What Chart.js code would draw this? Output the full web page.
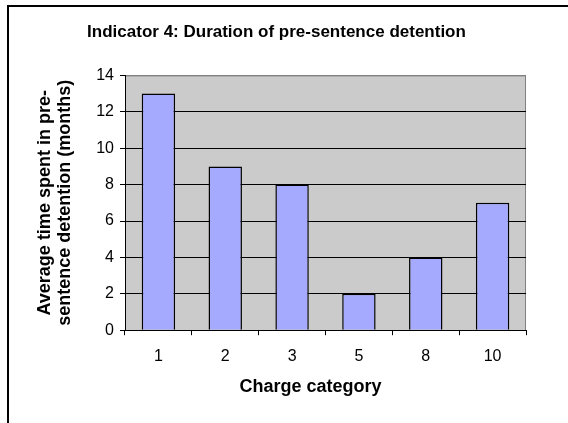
<!DOCTYPE html>
<html>
<head>
<meta charset="utf-8">
<script src="https://cdn.jsdelivr.net/npm/chart.js@4"></script>
<style>
  html, body { margin: 0; padding: 0; background: #fff; }
  #wrap { position: relative; width: 568px; height: 423px; overflow: hidden; }
  #frame { position: absolute; left: 7px; top: 5px; width: 600px; height: 500px;
           border-left: 2px solid #000; border-top: 2px solid #000; }
  canvas { position: absolute; left: 0; top: 0; }
</style>
</head>
<body>
<div id="wrap">
  <div id="frame"></div>
  <canvas id="c" width="568" height="423"></canvas>
</div>
<script>
// Indicator 4 — average months in pre-sentence detention per charge category
const categories = ["1", "2", "3", "5", "8", "10"];
const months = [13, 9, 8, 2, 4, 7];
const yTicks = [0, 2, 4, 6, 8, 10, 12, 14];

const FONT = "'Liberation Sans', Arial, sans-serif";
const PLOT_BG = "#cbcbcb";
const BAR = "#a6aaff";

// gray plot background + gray top/right frame, like the old Excel look
const plotBg = {
  id: "plotBg",
  beforeDraw(chart) {
    const { ctx, chartArea: a } = chart;
    ctx.save();
    ctx.fillStyle = PLOT_BG;
    ctx.fillRect(a.left, a.top, a.right - a.left, a.bottom - a.top);
    ctx.strokeStyle = "#808080";
    ctx.lineWidth = 1;
    ctx.beginPath();
    ctx.moveTo(a.left, a.top + 0.5);
    ctx.lineTo(a.right - 0.5, a.top + 0.5);
    ctx.lineTo(a.right - 0.5, a.bottom);
    ctx.stroke();
    ctx.restore();
  },
};

new Chart(document.getElementById("c"), {
  type: "bar",
  data: {
    labels: categories,
    datasets: [{
      data: months,
      backgroundColor: BAR,
      borderColor: "#000",
      borderWidth: 1.5,
      categoryPercentage: 0.5,
      barPercentage: 1,
    }],
  },
  options: {
    responsive: false,
    animation: false,
    events: [],
    layout: { padding: { left: 27, right: 42, top: 0, bottom: 0 } },
    plugins: {
      legend: { display: false },
      tooltip: { enabled: false },
      title: {
        display: true,
        text: "Indicator 4: Duration of pre-sentence detention",
        color: "#000",
        font: { family: FONT, size: 17, weight: "bold" },
        padding: { top: 22, bottom: 33 },
      },
    },
    scales: {
      x: {
        grid: { display: true, drawOnChartArea: false, offset: true, color: "#000", tickLength: 5 },
        border: { color: "#000", width: 1 },
        ticks: { color: "#000", font: { family: FONT, size: 16 }, padding: 12 },
        title: {
          display: true,
          // trailing no-break spaces nudge the centred title left, as in the original
          text: "Charge category\u00a0\u00a0\u00a0\u00a0\u00a0\u00a0",
          color: "#000",
          font: { family: FONT, size: 18, weight: "bold" },
          padding: { top: -2, bottom: 25 },
        },
      },
      y: {
        min: 0,
        max: 14,
        afterBuildTicks: (s) => { s.ticks = yTicks.map((v) => ({ value: v })); },
        afterFit: (s) => { s.width = 125 - 27; },
        grid: {
          color: (c) => (c.tick && c.tick.value === 14 ? "#808080" : "#000"),
          tickColor: "#000",
          tickLength: 5,
        },
        border: { color: "#000", width: 1 },
        ticks: { color: "#000", font: { family: FONT, size: 16 }, padding: 6 },
        title: {
          display: true,
          text: ["Average time spent in pre-", "sentence detention (months)"],
          color: "#000",
          font: { family: FONT, size: 18, weight: "bold", lineHeight: 1.13 },
          padding: { top: 8, bottom: 4 },
        },
      },
    },
  },
  plugins: [plotBg],
});
</script>
</body>
</html>
